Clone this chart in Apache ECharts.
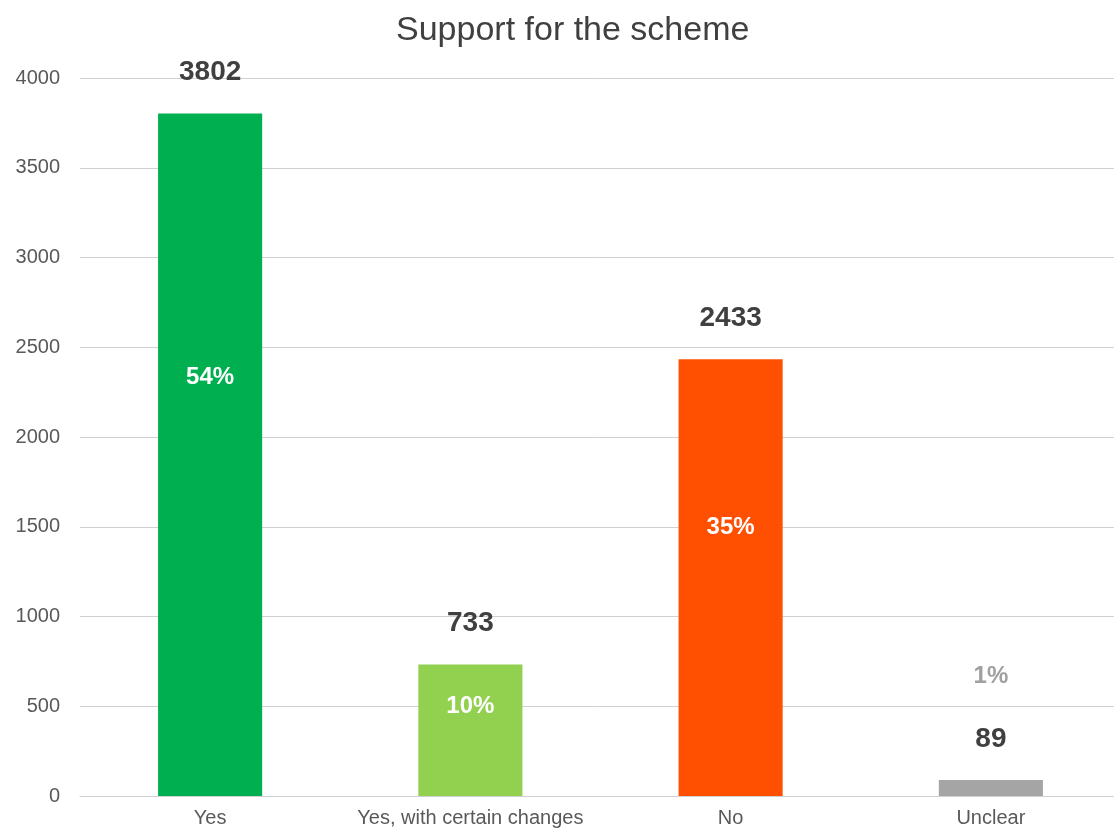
<!DOCTYPE html>
<html>
<head>
<meta charset="utf-8">
<script src="https://cdn.jsdelivr.net/npm/echarts@6/dist/echarts.min.js"></script>
<style>
  html, body { margin: 0; padding: 0; background: #fff; }
  #main { width: 1114px; height: 835px; }
</style>
</head>
<body>
<div id="main"></div>
<script>
let categories = ['Yes', 'Yes, with certain changes', 'No', 'Unclear'];
let counts = [3802, 733, 2433, 89];
let percents = ['54%', '10%', '35%', '1%'];
let barColors = ['#00B050', '#92D050', '#FF4F00', '#A5A5A5'];
let yTicks = [0, 500, 1000, 1500, 2000, 2500, 3000, 3500, 4000];

// where each percent label sits on its bar (inside / above)
let pctPos = [['50%', '38.7%'], ['50%', '32%'], ['50%', '38.4%'], ['50%', -104]];
let pctColor = ['#fff', '#fff', '#fff', '#A0A0A0'];

let chart = echarts.init(document.getElementById('main'));

let option = {
    backgroundColor: '#fff',
    animation: false,
    title: {
        text: 'Support for the scheme',
        left: 391,
        top: 9,
        textStyle: {
            fontFamily: 'Liberation Sans',
            fontWeight: 'normal',
            fontSize: 34,
            color: '#404040'
        }
    },
    grid: {
        left: 80,
        width: 1041,
        top: 78,
        bottom: 39,
        outerBoundsMode: 'none',
        containLabel: false
    },
    xAxis: {
        type: 'category',
        data: categories,
        axisTick: { show: false },
        axisLine: { lineStyle: { color: '#d0d0d0', width: 1 } },
        axisLabel: {
            interval: 0,
            fontFamily: 'Liberation Sans',
            fontSize: 20,
            color: '#595959',
            margin: 12
        }
    },
    yAxis: {
        type: 'value',
        min: yTicks[0],
        max: yTicks[yTicks.length - 1],
        interval: 500,
        axisLine: { show: false },
        axisTick: { show: false },
        splitLine: { lineStyle: { color: '#d0d0d0', width: 1 } },
        axisLabel: {
            formatter: v => String(v),
            fontFamily: 'Liberation Sans',
            fontSize: 20,
            color: '#595959',
            margin: 20
        }
    },
    series: [
        {
            name: 'count',
            type: 'bar',
            barWidth: '40%',
            data: counts.map((v, i) => ({
                value: v,
                itemStyle: { color: barColors[i] }
            })),
            label: {
                show: true,
                position: 'top',
                distance: 27,
                fontFamily: 'Liberation Sans',
                fontWeight: 'bold',
                fontSize: 28,
                color: '#404040'
            }
        },
        {
            name: 'percent',
            type: 'bar',
            barWidth: '40%',
            barGap: '-100%',
            silent: true,
            data: counts.map((v, i) => ({
                value: v,
                itemStyle: { color: 'transparent' },
                label: {
                    position: pctPos[i],
                    color: pctColor[i],
                    formatter: percents[i]
                }
            })),
            label: {
                show: true,
                align: 'center',
                verticalAlign: 'middle',
                fontFamily: 'Liberation Sans',
                fontWeight: 'bold',
                fontSize: 24
            },
            z: 3
        }
    ]
};

chart.setOption(option);
</script>
</body>
</html>
